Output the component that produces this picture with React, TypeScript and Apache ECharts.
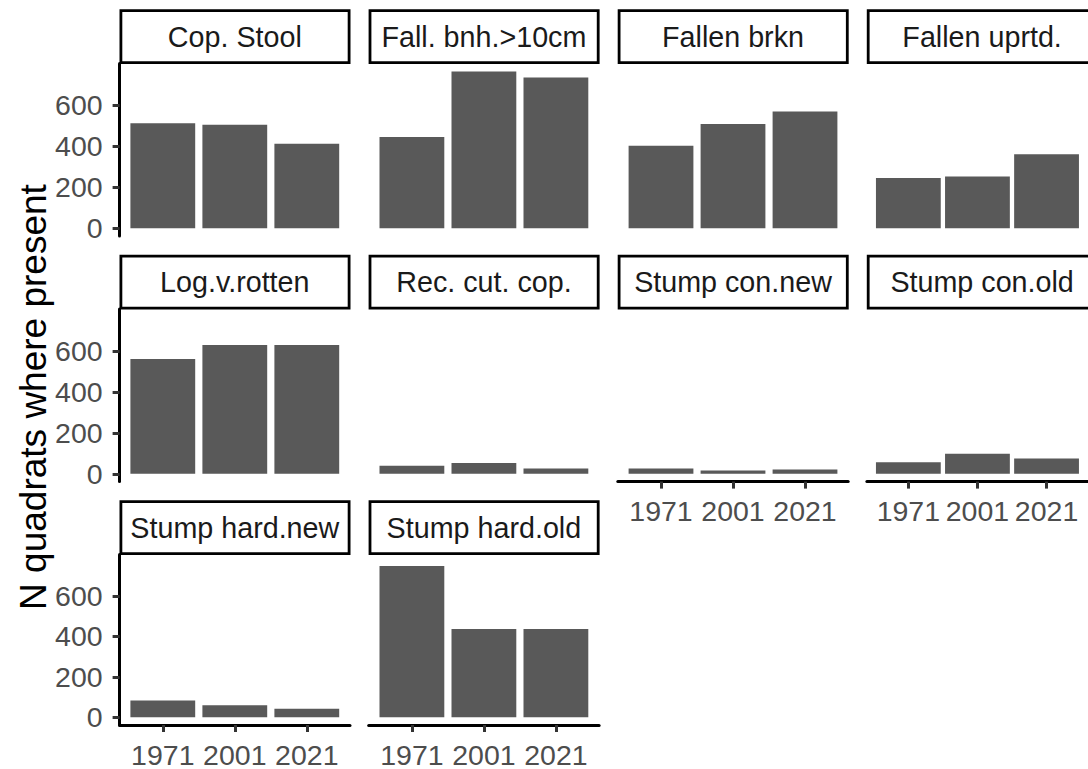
import React, { useEffect, useRef } from "react";
import * as echarts from "echarts";

// ---- data ----
const categories = [
  "Cop. Stool",
  "Fall. bnh.>10cm",
  "Fallen brkn",
  "Fallen uprtd.",
  "Log.v.rotten",
  "Rec. cut. cop.",
  "Stump con.new",
  "Stump con.old",
  "Stump hard.new",
  "Stump hard.old",
];
const years = ["1971", "2001", "2021"];
const copStool = [512, 505, 412];
const fallBnh = [445, 765, 736];
const fallenBrkn = [402, 508, 569];
const fallenUprtd = [245, 252, 361];
const logVRotten = [560, 628, 628];
const recCutCop = [39, 52, 26];
const stumpConNew = [26, 16, 21];
const stumpConOld = [56, 98, 74];
const stumpHardNew = [83, 59, 42];
const stumpHardOld = [747, 436, 436];
const yTicks = [0, 200, 400, 600];
const yTitle = "N quadrats where present";

const seriesValues = [
  copStool, fallBnh, fallenBrkn, fallenUprtd, logVRotten,
  recCutCop, stumpConNew, stumpConOld, stumpHardNew, stumpHardOld,
];

// ---- layout ----
const colLeft = [119.6, 368.7, 617.8, 866.9];
const colW = 230.4;
const rowTop = [63.6, 309.1, 554.6];
const panelH = 172.5;
const stripH = 52;
const FONT = "'Liberation Sans', Arial, sans-serif";

export default function App() {
  const ref = useRef<HTMLDivElement>(null);
  useEffect(() => {
    if (!ref.current) return;
    const chart = echarts.init(ref.current, null, { renderer: "svg" });
    const allMax = Math.max(...seriesValues.flat());
    const yMin = -0.05 * allMax;
    const yMax = 1.05 * allMax;
    const unit = colW / 3.2;

    const grids: any[] = [];
    const xAxes: any[] = [];
    const yAxes: any[] = [];
    const series: any[] = [];
    const graphics: any[] = [];

    categories.forEach((name, i) => {
      const r = Math.floor(i / 4);
      const c = i % 4;
      const left = colLeft[c];
      const top = rowTop[r];
      grids.push({ left, top, width: colW, height: panelH, containLabel: false });
      const showX = i >= 6;
      const showY = c === 0;
      xAxes.push({
        type: "value",
        gridIndex: i,
        min: 0.4,
        max: 3.6,
        show: showX,
        splitLine: { show: false },
        axisLine: { show: true, onZero: false, lineStyle: { color: "#000", width: 3 } },
        axisTick: { show: true, customValues: [1, 2, 3], length: 7, lineStyle: { color: "#333", width: 3 } },
        axisLabel: {
          show: true,
          customValues: [1, 2, 3],
          formatter: (v: number) => years[Math.round(v) - 1],
          color: "#4D4D4D",
          fontSize: 28.5,
          fontFamily: FONT,
          margin: 15,
        },
      });
      yAxes.push({
        type: "value",
        gridIndex: i,
        min: yMin,
        max: yMax,
        show: showY,
        splitLine: { show: false },
        axisLine: { show: true, onZero: false, lineStyle: { color: "#000", width: 3 } },
        axisTick: { show: true, customValues: yTicks, length: 7, lineStyle: { color: "#333", width: 3 } },
        axisLabel: {
          show: true,
          customValues: yTicks,
          color: "#4D4D4D",
          fontSize: 28.5,
          fontFamily: FONT,
          margin: 17,
        },
      });
      series.push({
        type: "bar",
        xAxisIndex: i,
        yAxisIndex: i,
        barWidth: unit * 0.9,
        itemStyle: { color: "#595959" },
        data: seriesValues[i].map((v, k) => [k + 1, v]),
      });
      graphics.push({
        type: "rect",
        shape: { x: left + 1.3, y: top - stripH - 1, width: colW - 2.2, height: stripH },
        style: { fill: "#fff", stroke: "#000", lineWidth: 2.8 },
      });
      graphics.push({
        type: "text",
        x: left + colW / 2,
        y: top - stripH / 2 - 1,
        style: {
          text: name,
          fontSize: 28.7,
          fontFamily: FONT,
          fill: "#1A1A1A",
          align: "center",
          verticalAlign: "middle",
        },
      });
    });

    graphics.push({
      type: "text",
      x: 33,
      y: 397,
      rotation: Math.PI / 2,
      style: {
        text: yTitle,
        fontSize: 37,
        fontFamily: FONT,
        fill: "#000",
        align: "center",
        verticalAlign: "middle",
      },
    });

    chart.setOption({
      animation: false,
      backgroundColor: "#fff",
      grid: grids,
      xAxis: xAxes,
      yAxis: yAxes,
      series,
      graphic: graphics,
    });
    return () => chart.dispose();
  }, []);
  return (
    <div
      ref={ref}
      style={{ position: "absolute", left: 0, top: 0, width: 1088, height: 769 }}
    />
  );
}
